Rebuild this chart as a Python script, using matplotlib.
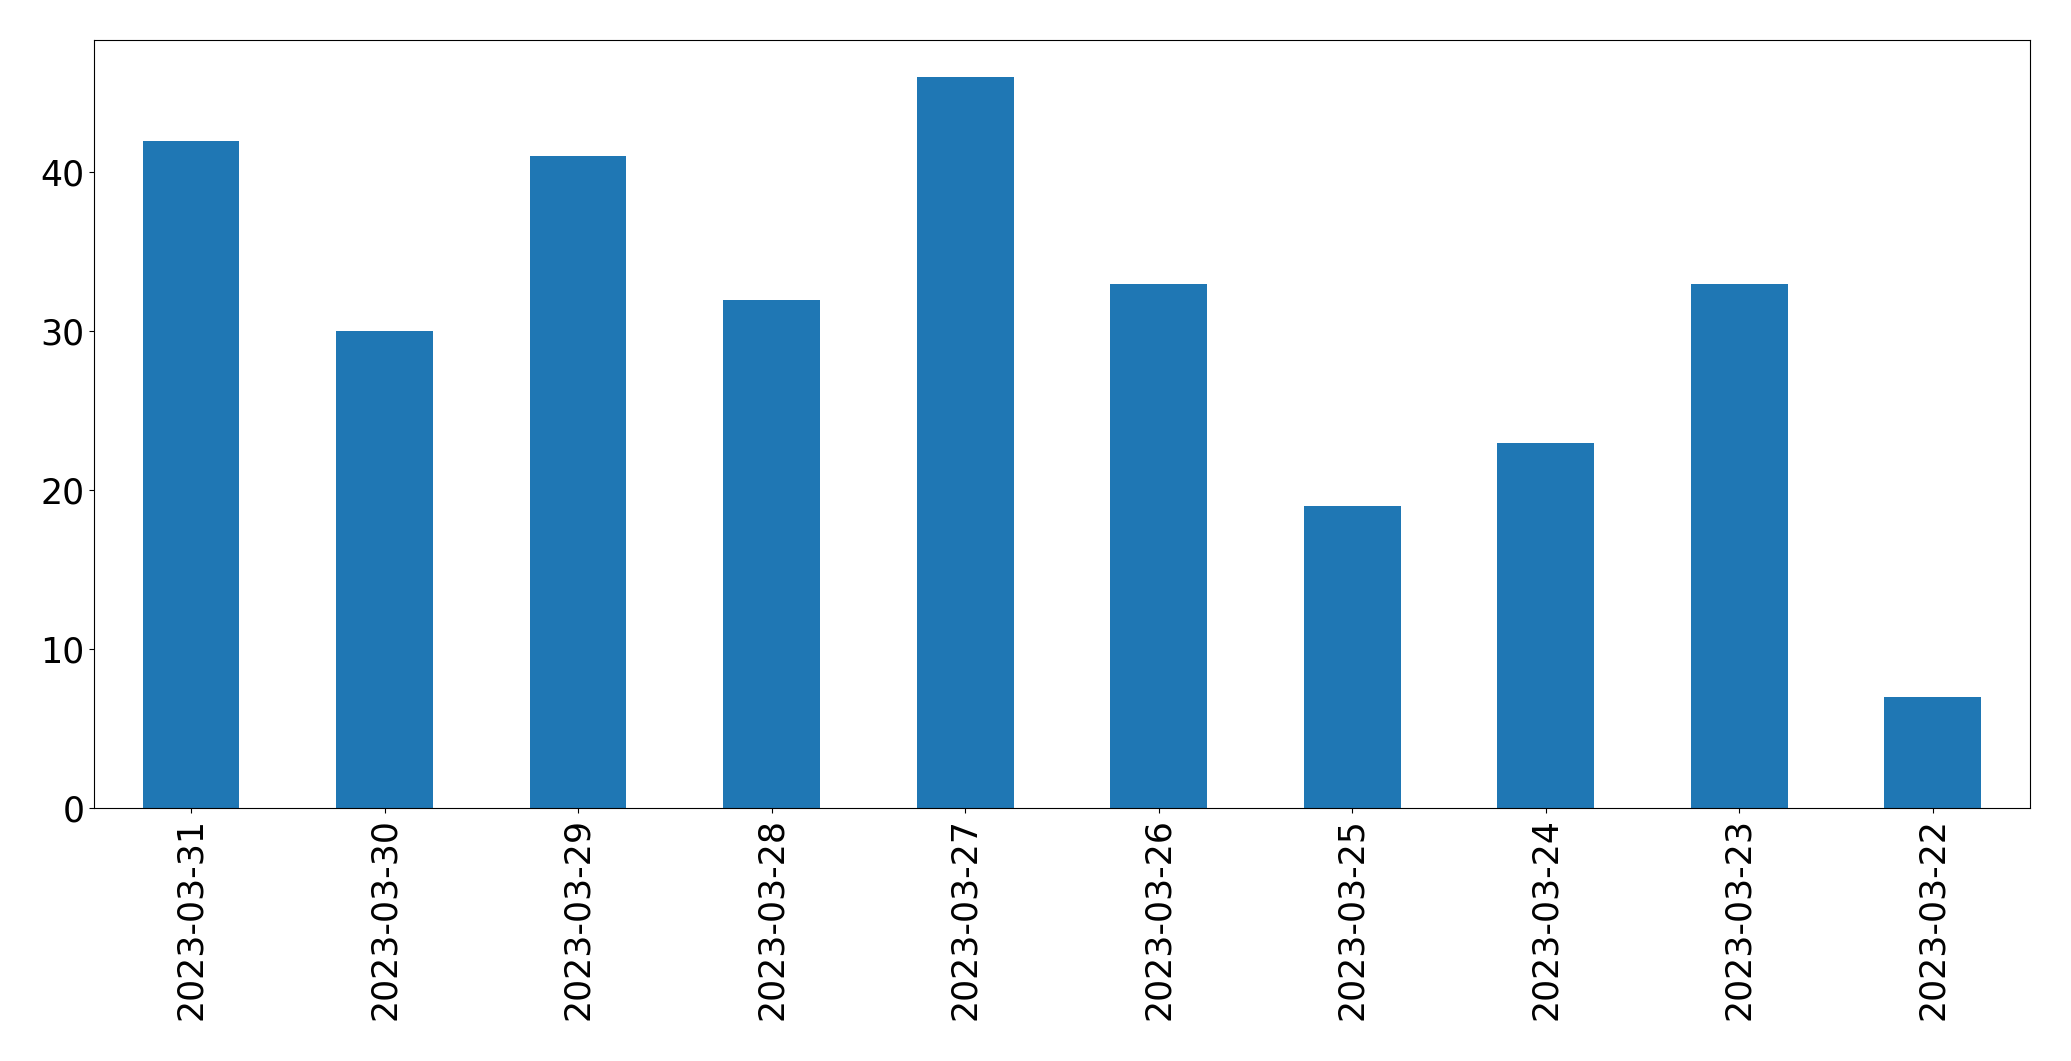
import matplotlib
matplotlib.use("Agg")
import matplotlib.pyplot as plt
import pandas as pd

dates = ["2023-03-31", "2023-03-30", "2023-03-29", "2023-03-28", "2023-03-27",
         "2023-03-26", "2023-03-25", "2023-03-24", "2023-03-23", "2023-03-22"]
counts = [42, 30, 41, 32, 46, 33, 19, 23, 33, 7]

series = pd.Series(counts, index=dates)

fig, ax = plt.subplots(figsize=(20.71, 10.61), dpi=100)
series.plot(kind="bar", ax=ax, color="#1f77b4")
ax.tick_params(axis="both", labelsize=25)
fig.subplots_adjust(left=0.0455, right=0.980, top=0.962, bottom=0.238)
fig.savefig("out.png", dpi=100)
